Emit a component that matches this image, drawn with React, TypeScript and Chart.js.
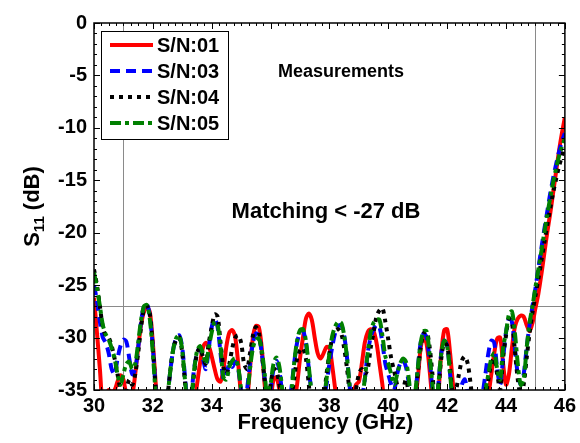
import React, { useEffect, useRef } from "react";
import { Chart, registerables } from "chart.js";

Chart.register(...registerables);

// Frequency grid (GHz)
const freqGHz = [
  30.0, 30.1, 30.2, 30.3, 30.4, 30.5, 30.6, 30.7, 30.8, 30.9,
  31.0, 31.1, 31.2, 31.3, 31.4, 31.5, 31.6, 31.7, 31.8, 31.9,
  32.0, 32.1, 32.2, 32.3, 32.4, 32.5, 32.6, 32.7, 32.8, 32.9,
  33.0, 33.1, 33.2, 33.3, 33.4, 33.5, 33.6, 33.7, 33.8, 33.9,
  34.0, 34.1, 34.2, 34.3, 34.4, 34.5, 34.6, 34.7, 34.8, 34.9,
  35.0, 35.1, 35.2, 35.3, 35.4, 35.5, 35.6, 35.7, 35.8, 35.9,
  36.0, 36.1, 36.2, 36.3, 36.4, 36.5, 36.6, 36.7, 36.8, 36.9,
  37.0, 37.1, 37.2, 37.3, 37.4, 37.5, 37.6, 37.7, 37.8, 37.9,
  38.0, 38.1, 38.2, 38.3, 38.4, 38.5, 38.6, 38.7, 38.8, 38.9,
  39.0, 39.1, 39.2, 39.3, 39.4, 39.5, 39.6, 39.7, 39.8, 39.9,
  40.0, 40.1, 40.2, 40.3, 40.4, 40.5, 40.6, 40.7, 40.8, 40.9,
  41.0, 41.1, 41.2, 41.3, 41.4, 41.5, 41.6, 41.7, 41.8, 41.9,
  42.0, 42.1, 42.2, 42.3, 42.4, 42.5, 42.6, 42.7, 42.8, 42.9,
  43.0, 43.1, 43.2, 43.3, 43.4, 43.5, 43.6, 43.7, 43.8, 43.9,
  44.0, 44.1, 44.2, 44.3, 44.4, 44.5, 44.6, 44.7, 44.8, 44.9,
  45.0, 45.1, 45.2, 45.3, 45.4, 45.5, 45.6, 45.7, 45.8, 45.9,
  46.0,
];

// S11 (dB) per unit
const sn01 = [
  -26.2, -29.5, -33.0, -36.5, -35.5, -35.0, -35.2, -35.0, -34.2, -33.6,
  -34.0, -35.5, -36.0, -35.5, -33.5, -31.0, -28.8, -27.5, -27.1, -27.6,
  -30.5, -34.5, -38.0, -39.0, -39.0, -39.0, -39.0, -39.0, -39.0, -39.0,
  -39.0, -39.0, -39.0, -38.0, -36.5, -34.5, -32.5, -31.0, -30.5, -30.8,
  -31.8, -33.0, -34.0, -34.2, -33.0, -30.8, -29.5, -29.3, -30.0, -32.5,
  -35.5, -37.0, -36.0, -33.0, -30.0, -28.9, -29.0, -31.0, -34.5, -37.0,
  -36.0, -34.0, -33.8, -35.0, -37.0, -38.0, -38.0, -37.0, -36.0, -34.5,
  -32.0, -30.0, -28.2, -27.7, -28.3, -30.0, -31.5, -32.0, -31.5, -30.9,
  -31.0, -32.8, -35.0, -37.0, -38.0, -38.0, -38.0, -37.0, -35.5, -34.5,
  -34.2, -32.5, -30.5, -29.5, -29.2, -29.4, -30.5, -32.5, -34.5, -37.0,
  -38.0, -38.0, -38.0, -38.0, -38.0, -37.0, -36.0, -36.5, -37.5, -36.0,
  -34.0, -31.0, -30.0, -30.6, -33.0, -36.0, -38.0, -35.5, -31.5, -29.3,
  -29.2, -31.5, -34.5, -37.0, -38.5, -39.0, -39.0, -39.0, -39.0, -39.0,
  -39.0, -39.0, -38.5, -37.0, -35.5, -33.5, -31.5, -30.1, -30.0, -32.5,
  -34.5, -33.5, -31.0, -29.0, -28.2, -27.9, -28.0, -28.8, -29.4, -28.6,
  -27.2, -25.8, -24.0, -22.0, -20.0, -18.2, -16.2, -14.2, -12.2, -10.5,
  -9.0,
];

const sn03 = [
  -25.0, -26.5, -28.5, -30.0, -30.5, -31.5, -33.0, -33.5, -32.0, -30.8,
  -30.2, -30.4, -32.0, -33.5, -33.0, -31.0, -28.5, -27.0, -26.8, -28.0,
  -31.0, -35.0, -38.0, -38.0, -37.0, -35.5, -33.0, -31.0, -30.0, -29.8,
  -31.0, -34.0, -36.5, -35.5, -33.0, -31.5, -31.0, -32.0, -33.0, -31.0,
  -29.0, -28.2, -29.0, -31.5, -34.0, -33.5, -32.5, -32.8, -32.3, -33.0,
  -35.0, -37.0, -35.0, -32.5, -30.5, -29.6, -29.8, -31.5, -34.0, -36.5,
  -35.0, -33.0, -32.2, -33.2, -35.5, -37.5, -37.0, -35.0, -32.5, -30.5,
  -29.5, -29.3, -30.5, -33.0, -35.5, -37.5, -38.0, -37.0, -36.0, -34.5,
  -32.5, -30.8, -29.5, -28.9, -28.8, -29.8, -32.0, -35.0, -37.5, -38.0,
  -37.5, -36.0, -34.0, -31.5, -30.0, -29.2, -28.8, -29.0, -30.5, -32.5,
  -33.5, -34.5, -35.0, -33.5, -32.5, -32.2, -32.8, -34.5, -37.0, -36.0,
  -33.0, -30.5, -29.6, -30.0, -32.0, -35.0, -37.5, -34.5, -31.5, -30.3,
  -30.8, -33.5, -36.5, -37.5, -36.5, -34.5, -34.0, -35.5, -38.0, -38.5,
  -38.5, -37.5, -35.5, -33.5, -31.5, -30.3, -30.5, -33.0, -34.5, -32.0,
  -29.5, -28.2, -28.5, -31.0, -33.5, -34.5, -33.5, -31.0, -28.8, -27.0,
  -25.3, -23.4, -21.5, -19.7, -18.0, -16.3, -14.8, -13.5, -12.3, -11.3,
  -10.5,
];

const sn04 = [
  -23.5, -25.0, -27.0, -29.0, -29.8, -30.0, -30.8, -32.0, -33.5, -35.0,
  -36.0, -35.0, -34.0, -34.5, -33.5, -31.5, -29.0, -27.3, -27.0, -27.8,
  -31.0, -35.0, -38.0, -38.5, -37.5, -35.5, -33.0, -31.0, -30.2, -30.0,
  -31.5, -34.5, -37.0, -36.0, -33.5, -31.5, -31.0, -31.8, -32.5, -30.5,
  -29.0, -27.8, -28.0, -30.5, -32.8, -33.5, -32.5, -31.0, -30.0, -29.8,
  -30.5, -32.5, -33.0, -31.5, -29.8, -29.0, -29.5, -31.5, -34.0, -36.0,
  -34.5, -33.0, -33.2, -34.5, -36.5, -38.0, -37.5, -36.0, -34.0, -32.0,
  -31.2, -31.0, -32.0, -34.5, -37.0, -38.0, -38.0, -37.5, -36.0, -33.5,
  -31.5, -30.0, -29.3, -29.2, -29.6, -31.0, -33.0, -35.5, -37.0, -35.0,
  -33.5, -33.0, -33.5, -33.0, -31.0, -29.5, -28.0, -27.4, -27.2, -28.5,
  -30.2, -32.0, -33.2, -34.5, -35.5, -35.0, -34.0, -35.5, -37.5, -36.0,
  -33.5, -31.0, -29.6, -29.4, -30.8, -33.5, -36.5, -35.0, -32.0, -30.5,
  -30.8, -33.0, -35.5, -35.0, -33.5, -32.2, -31.8, -32.5, -34.5, -37.0,
  -38.5, -38.5, -37.5, -36.0, -34.0, -32.5, -32.0, -33.5, -35.0, -32.0,
  -29.8, -28.2, -28.6, -31.2, -34.0, -35.5, -34.5, -32.0, -29.6, -27.6,
  -26.0, -24.4, -22.7, -21.0, -19.3, -17.7, -16.2, -14.9, -13.7, -12.7,
  -11.8,
];

const sn05 = [
  -23.8, -25.2, -27.0, -28.8, -29.7, -30.2, -31.0, -32.0, -33.5, -34.5,
  -33.5, -32.5, -32.3, -33.0, -32.5, -30.5, -28.3, -27.0, -26.9, -28.3,
  -31.5, -35.5, -38.0, -38.5, -37.5, -35.5, -33.0, -31.0, -30.0, -29.8,
  -31.3, -34.3, -37.0, -36.0, -33.2, -31.3, -30.8, -31.5, -32.5, -31.0,
  -29.5, -28.5, -28.8, -31.0, -33.8, -34.0, -32.8, -32.2, -32.0, -32.8,
  -35.0, -37.0, -35.5, -33.0, -31.0, -30.2, -30.1, -31.2, -33.5, -36.0,
  -34.5, -32.5, -31.9, -32.8, -35.0, -37.0, -37.5, -35.5, -32.5, -30.3,
  -29.3, -29.2, -30.3, -32.8, -35.5, -37.5, -38.0, -37.0, -36.0, -34.0,
  -31.5, -29.8, -28.9, -28.5, -28.6, -29.8, -32.0, -35.0, -37.5, -38.0,
  -37.5, -36.0, -34.0, -31.5, -29.5, -28.6, -28.3, -28.3, -29.8, -31.8,
  -32.5, -33.5, -34.5, -33.5, -32.5, -32.0, -32.3, -34.0, -36.5, -35.5,
  -33.0, -30.5, -29.4, -29.4, -31.5, -34.5, -37.0, -34.5, -31.5, -30.3,
  -30.8, -33.5, -36.5, -38.0, -38.5, -38.5, -38.0, -37.5, -38.0, -38.5,
  -38.5, -38.0, -36.5, -35.0, -33.5, -32.0, -31.5, -33.0, -34.0, -31.0,
  -29.5, -27.8, -27.5, -29.5, -32.5, -34.5, -34.0, -31.0, -28.6, -27.0,
  -25.2, -23.5, -21.8, -20.0, -18.3, -16.7, -15.2, -13.9, -12.7, -11.8,
  -11.0,
];

const seriesNames = ["S/N:01", "S/N:03", "S/N:04", "S/N:05"];
const seriesColors = ["#ff0000", "#0000ff", "#000000", "#008000"];
const seriesDashes: number[][] = [[], [10, 6], [4, 5], [11, 4, 4, 4]];
const xTicks = [30, 32, 34, 36, 38, 40, 42, 44, 46];
const yTicks = [0, -5, -10, -15, -20, -25, -30, -35];
const refFreqs = [31, 45];
const matchLevel = -27;
const noteTop = "Measurements";
const noteMid = "Matching < -27 dB";
const xTitle = "Frequency (GHz)";

const FONT = '"Liberation Sans", Arial, Helvetica, sans-serif';

const decorPlugin = {
  id: "decor",
  beforeDatasetsDraw(chart: any) {
    const { ctx, chartArea: a, scales } = chart;
    const x = scales.x, y = scales.y;
    ctx.save();
    ctx.strokeStyle = "#8a8a8a";
    ctx.lineWidth = 1;
    ctx.beginPath();
    for (const f of refFreqs) {
      const px = Math.round(x.getPixelForValue(f)) + 0.5;
      ctx.moveTo(px, a.top);
      ctx.lineTo(px, a.bottom);
    }
    const py = Math.round(y.getPixelForValue(matchLevel)) + 0.5;
    ctx.moveTo(a.left, py);
    ctx.lineTo(a.right, py);
    ctx.stroke();
    ctx.restore();
  },
  afterDatasetsDraw(chart: any) {
    const { ctx, chartArea: a, scales } = chart;
    const x = scales.x, y = scales.y;
    ctx.save();
    // ticks (inward, all four sides)
    ctx.strokeStyle = "#000";
    ctx.lineWidth = 1;
    ctx.beginPath();
    for (let i = 0; i <= 64; i++) {
      const f = 30 + i * 0.25;
      const px = Math.round(x.getPixelForValue(f)) + 0.5;
      const len = i % 8 === 0 ? 6 : 3;
      ctx.moveTo(px, a.bottom);
      ctx.lineTo(px, a.bottom - len);
      ctx.moveTo(px, a.top);
      ctx.lineTo(px, a.top + len);
    }
    for (let i = 0; i <= 35; i++) {
      const v = -i;
      const py = Math.round(y.getPixelForValue(v)) + 0.5;
      const len = i % 5 === 0 ? 6 : 3;
      ctx.moveTo(a.left, py);
      ctx.lineTo(a.left + len, py);
      ctx.moveTo(a.right, py);
      ctx.lineTo(a.right - len, py);
    }
    ctx.stroke();
    // box
    ctx.lineWidth = 1.5;
    ctx.strokeRect(a.left, a.top, a.right - a.left, a.bottom - a.top);

    // annotations
    ctx.fillStyle = "#000";
    ctx.textAlign = "center";
    ctx.textBaseline = "middle";
    ctx.font = `bold 18px ${FONT}`;
    ctx.fillText(noteTop, 341, 72);
    ctx.font = `bold 22px ${FONT}`;
    ctx.fillText(noteMid, 326, 212);

    // x title
    ctx.font = `bold 22px ${FONT}`;
    ctx.textBaseline = "alphabetic";
    ctx.fillText(xTitle, (a.left + a.right) / 2 - 4, 429);

    // y title S_11 (dB)
    const big = `bold 22px ${FONT}`;
    const small = `bold 15px ${FONT}`;
    ctx.font = big;
    const wS = ctx.measureText("S").width;
    const wRest = ctx.measureText(" (dB)").width;
    ctx.font = small;
    const w11 = ctx.measureText("11").width;
    const total = wS + w11 + wRest;
    ctx.translate(39, (a.top + a.bottom) / 2);
    ctx.rotate(-Math.PI / 2);
    ctx.textAlign = "left";
    let cx = -total / 2;
    ctx.font = big;
    ctx.fillText("S", cx, 0);
    cx += wS;
    ctx.font = small;
    ctx.fillText("11", cx, 5);
    cx += w11;
    ctx.font = big;
    ctx.fillText(" (dB)", cx, 0);
    ctx.restore();

    // legend
    ctx.save();
    const lx = 101, ly = 31, lw = 127, lh = 108;
    ctx.fillStyle = "#fff";
    ctx.fillRect(lx, ly, lw, lh);
    ctx.strokeStyle = "#000";
    ctx.lineWidth = 1;
    ctx.strokeRect(lx + 0.5, ly + 0.5, lw, lh);
    const rows = [45, 71, 97, 123];
    ctx.font = `bold 20px ${FONT}`;
    ctx.textAlign = "left";
    ctx.textBaseline = "middle";
    for (let i = 0; i < seriesNames.length; i++) {
      ctx.beginPath();
      ctx.strokeStyle = seriesColors[i];
      ctx.lineWidth = 4;
      ctx.setLineDash(seriesDashes[i]);
      ctx.moveTo(110, rows[i]);
      ctx.lineTo(153, rows[i]);
      ctx.stroke();
      ctx.setLineDash([]);
      ctx.fillStyle = "#000";
      ctx.fillText(seriesNames[i], 157, rows[i] + 1);
    }
    ctx.restore();
  },
};

export default function App() {
  const ref = useRef<HTMLCanvasElement | null>(null);
  useEffect(() => {
    document.body.style.margin = "0";
    const canvas = ref.current!;
    const allSeries = [sn01, sn03, sn04, sn05];
    const datasets = allSeries.map((vals, i) => ({
      label: seriesNames[i],
      data: freqGHz.map((f, k) => ({ x: f, y: vals[k] })),
      borderColor: seriesColors[i],
      backgroundColor: seriesColors[i],
      borderWidth: 4,
      borderDash: seriesDashes[i],
      pointRadius: 0,
      tension: 0.3,
      fill: false,
      clip: 0,
      order: 4 - i,
    }));
    const chart = new Chart(canvas, {
      type: "line",
      data: { datasets },
      options: {
        responsive: false,
        animation: false,
        devicePixelRatio: 1,
        layout: { padding: { top: 23, right: 12, left: 0, bottom: 0 } },
        plugins: { legend: { display: false }, tooltip: { enabled: false } },
        scales: {
          x: {
            type: "linear",
            min: 30,
            max: 46,
            afterBuildTicks: (s: any) => {
              s.ticks = xTicks.map((v) => ({ value: v }));
            },
            afterFit: (s: any) => {
              s.height = 53;
            },
            grid: { display: false, drawTicks: false },
            border: { display: false },
            ticks: {
              color: "#000",
              padding: 4,
              maxRotation: 0,
              font: { family: FONT, size: 20, weight: "bold" },
            },
          },
          y: {
            type: "linear",
            min: -35,
            max: 0,
            afterBuildTicks: (s: any) => {
              s.ticks = yTicks.map((v) => ({ value: v }));
            },
            afterFit: (s: any) => {
              s.width = 94;
            },
            grid: { display: false, drawTicks: false },
            border: { display: false },
            ticks: {
              color: "#000",
              padding: 7,
              font: { family: FONT, size: 20, weight: "bold" },
            },
          },
        },
      },
      plugins: [decorPlugin],
    } as any);
    return () => chart.destroy();
  }, []);
  return (
    <div style={{ width: 580, height: 443 }}>
      <canvas ref={ref} width={580} height={443} style={{ display: "block" }} />
    </div>
  );
}
